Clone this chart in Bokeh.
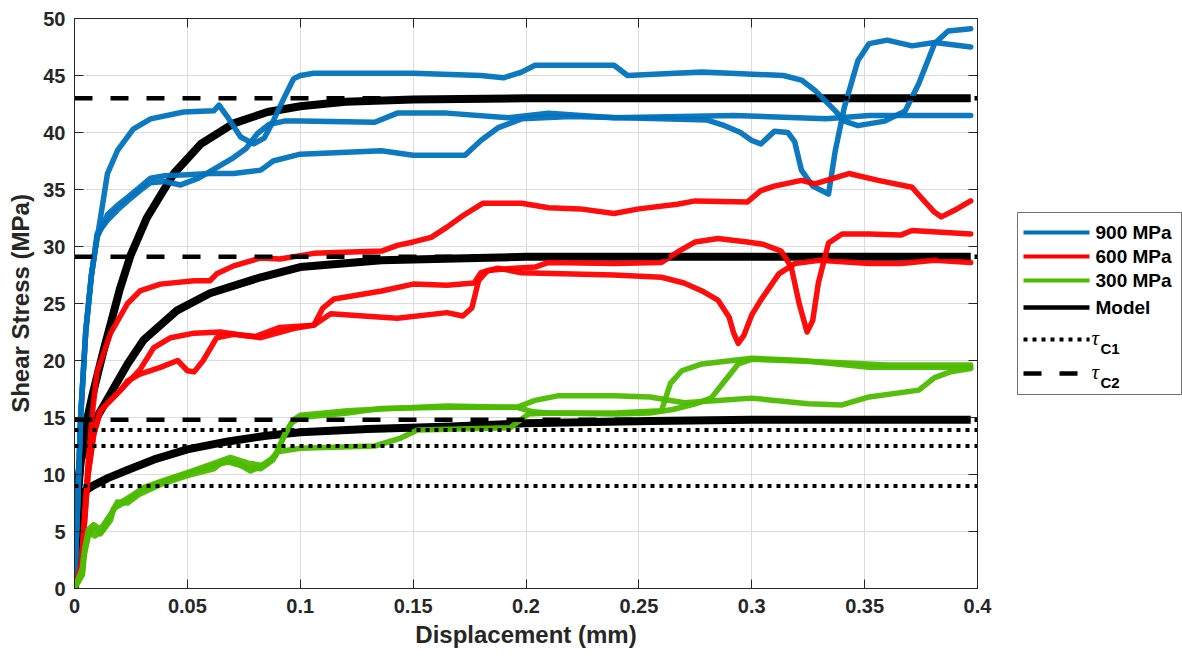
from bokeh.plotting import figure
from bokeh.models import Range1d, FixedTicker, LinearAxis, CustomJSTickFormatter
from bokeh.layouts import row
from bokeh.core.properties import value
from bokeh.embed import file_html
from bokeh.resources import INLINE

# ---------------- data ----------------
x_ticks = [0, 0.05, 0.1, 0.15, 0.2, 0.25, 0.3, 0.35, 0.4]
x_tick_labels = ["0", "0.05", "0.1", "0.15", "0.2", "0.25", "0.3", "0.35", "0.4"]
y_ticks = [0, 5, 10, 15, 20, 25, 30, 35, 40, 45, 50]

# 900 MPa tests
blue_a_x = [0, 0.0015, 0.0027, 0.005, 0.0075, 0.009, 0.0115, 0.0146, 0.019, 0.026, 0.0337, 0.0483, 0.0617,
            0.064, 0.068, 0.0736, 0.0794, 0.084, 0.088, 0.093, 0.097, 0.1, 0.106, 0.15, 0.18, 0.19, 0.198,
            0.204, 0.224, 0.239, 0.245, 0.278, 0.314, 0.322, 0.328, 0.337, 0.341, 0.347, 0.359, 0.368, 0.374,
            0.381, 0.387, 0.397]
blue_a_y = [0, 8, 15, 22.6, 27.5, 29.5, 32.5, 36.4, 38.4, 40.3, 41.2, 41.8, 41.9,
            42.4, 41.3, 39.6, 39.0, 39.5, 41.0, 43.1, 44.7, 45.0, 45.2, 45.2, 45.0, 44.8, 45.3,
            45.9, 45.9, 45.9, 45.0, 45.3, 45.0, 44.6, 43.7, 41.9, 41.0, 40.6, 41.0, 41.9, 44.3,
            47.8, 48.9, 49.1]

blue_b_x = [0, 0.0015, 0.0027, 0.005, 0.0075, 0.009, 0.010, 0.0146, 0.019, 0.0235, 0.029, 0.0337, 0.040,
            0.047, 0.055, 0.062, 0.0705, 0.076, 0.081, 0.086, 0.093, 0.1, 0.133, 0.143, 0.165, 0.192,
            0.21, 0.239, 0.292, 0.333, 0.352, 0.397]
blue_b_y = [0, 8, 15, 22.6, 27.5, 29.5, 31.1, 32.3, 33.2, 34.0, 34.9, 35.6, 35.7,
            35.4, 36.0, 36.8, 37.8, 38.6, 39.9, 40.7, 41.0, 41.0, 40.9, 41.7, 41.7, 41.3,
            41.7, 41.3, 41.5, 41.2, 41.5, 41.5]

blue_c_x = [0, 0.0015, 0.0027, 0.005, 0.0075, 0.009, 0.010, 0.0146, 0.019, 0.0235, 0.029, 0.0337, 0.040,
            0.05, 0.06, 0.0705, 0.0825, 0.088, 0.1, 0.136, 0.15, 0.173, 0.18, 0.1875, 0.198, 0.22, 0.26,
            0.28, 0.288, 0.295, 0.30, 0.304, 0.31, 0.316, 0.319, 0.322, 0.327, 0.334, 0.337, 0.341,
            0.347, 0.352, 0.36, 0.371, 0.381, 0.397]
blue_c_y = [0, 8, 15, 22.6, 27.5, 29.5, 30.8, 32.8, 33.6, 34.3, 35.2, 36.0, 36.2,
            36.3, 36.4, 36.4, 36.7, 37.5, 38.1, 38.4, 38.0, 38.0, 39.3, 40.4, 41.2, 41.4, 41.2,
            41.1, 40.6, 40.0, 39.3, 39.0, 40.1, 40.0, 39.2, 36.7, 35.3, 34.6, 38.4, 42.2,
            46.3, 47.8, 48.1, 47.6, 47.9, 47.5]

# 600 MPa tests
red_a_x = [0, 0.003, 0.006, 0.008, 0.010, 0.016, 0.0235, 0.029, 0.038, 0.053, 0.060, 0.063, 0.0705,
           0.0825, 0.091, 0.106, 0.136, 0.143, 0.15, 0.158, 0.165, 0.172, 0.181, 0.198, 0.21, 0.224,
           0.239, 0.25, 0.267, 0.275, 0.298, 0.304, 0.31, 0.322, 0.328, 0.343, 0.356, 0.371, 0.375,
           0.381, 0.384, 0.39, 0.397]
red_a_y = [0, 2, 11, 15.5, 19.0, 22.4, 25.0, 26.1, 26.7, 27.0, 27.0, 27.6, 28.3,
           29.0, 28.9, 29.4, 29.6, 30.1, 30.4, 30.8, 31.7, 32.7, 33.8, 33.8, 33.4, 33.3,
           32.9, 33.3, 33.7, 34.0, 33.9, 34.9, 35.3, 35.8, 35.5, 36.4, 35.8, 35.2, 34.3,
           33.0, 32.6, 33.2, 34.0]

red_b_x = [0, 0.003, 0.006, 0.0085, 0.0115, 0.0204, 0.029, 0.035, 0.0426, 0.053, 0.0647, 0.075, 0.0825,
           0.097, 0.106, 0.1135, 0.128, 0.143, 0.165, 0.172, 0.176, 0.179, 0.183, 0.195, 0.204, 0.21,
           0.239, 0.26, 0.267, 0.275, 0.285, 0.298, 0.305, 0.313, 0.3175, 0.321, 0.3245, 0.327, 0.3295,
           0.334, 0.34, 0.352, 0.366, 0.371, 0.397]
red_b_y = [0, 2, 10, 13.5, 15.6, 17.4, 19.2, 21.1, 22.0, 22.4, 22.5, 22.2, 22.0,
           22.8, 23.1, 24.1, 23.9, 23.7, 24.2, 23.9, 24.6, 27.0, 27.9, 28.1, 28.2, 28.6,
           28.5, 28.6, 29.5, 30.4, 30.7, 30.4, 30.2, 29.6, 28.2, 25.0, 22.5, 23.5, 26.8,
           30.3, 31.1, 31.1, 31.0, 31.4, 31.1]

red_c_x = [0, 0.003, 0.006, 0.0085, 0.0115, 0.0204, 0.0235, 0.029, 0.038, 0.0457, 0.05, 0.053, 0.057,
           0.063, 0.0705, 0.08, 0.091, 0.106, 0.110, 0.115, 0.136, 0.15, 0.165, 0.177, 0.18, 0.1875,
           0.198, 0.239, 0.26, 0.27, 0.278, 0.285, 0.29, 0.292, 0.294, 0.2965, 0.30, 0.304, 0.312,
           0.319, 0.33, 0.352, 0.366, 0.381, 0.397]
red_c_y = [0, 2, 10, 13.5, 15.6, 17.4, 18.2, 18.8, 19.4, 20.0, 19.1, 19.0, 20.0,
           22.0, 22.3, 22.1, 22.9, 23.1, 24.6, 25.4, 26.1, 26.7, 26.6, 26.8, 27.7, 28.1,
           27.7, 27.5, 27.3, 26.8, 26.1, 25.3, 23.8, 22.4, 21.5, 22.2, 24.0, 25.3, 27.6,
           28.5, 28.8, 28.5, 28.5, 28.8, 28.6]

# 300 MPa tests
green_a_x = [0, 0.0035, 0.004, 0.0062, 0.0084, 0.0115, 0.016, 0.0173, 0.0235, 0.029, 0.038, 0.05, 0.0617,
             0.068, 0.0767, 0.0825, 0.088, 0.092, 0.096, 0.1, 0.121, 0.136, 0.165, 0.196, 0.204, 0.214,
             0.239, 0.255, 0.27, 0.285, 0.30, 0.325, 0.34, 0.352, 0.374, 0.381, 0.388, 0.397]
green_a_y = [0, 1.5, 2.7, 4.8, 5.3, 4.8, 6.0, 7.0, 7.7, 8.6, 9.3, 10.1, 10.8,
             11.1, 10.6, 10.5, 11.3, 13.0, 14.5, 15.0, 15.4, 15.8, 15.9, 15.9, 16.5, 16.9,
             16.9, 16.8, 16.3, 16.5, 16.7, 16.2, 16.1, 16.8, 17.4, 18.5, 19.0, 19.3]

green_b_x = [0, 0.0035, 0.0045, 0.0065, 0.009, 0.012, 0.016, 0.019, 0.0235, 0.029, 0.038, 0.05, 0.0617,
             0.066, 0.072, 0.078, 0.0856, 0.09, 0.1, 0.133, 0.1445, 0.152, 0.193, 0.201, 0.21, 0.239,
             0.26, 0.264, 0.269, 0.278, 0.30, 0.322, 0.352, 0.397]
green_b_y = [0, 1.2, 3.2, 5.0, 4.6, 5.0, 6.4, 7.6, 7.5, 8.3, 9.1, 9.9, 10.5,
             11.2, 11.0, 10.3, 11.0, 12.0, 12.3, 12.5, 13.2, 13.9, 14.1, 15.3, 15.4, 15.4,
             15.6, 18.0, 19.1, 19.7, 20.2, 20.0, 19.4, 19.4]

green_c_x = [0, 0.0035, 0.0045, 0.0062, 0.0084, 0.0115, 0.016, 0.0185, 0.025, 0.031, 0.04, 0.052, 0.062,
             0.069, 0.077, 0.083, 0.089, 0.093, 0.097, 0.1, 0.121, 0.14, 0.165, 0.196, 0.203, 0.21,
             0.24, 0.255, 0.265, 0.275, 0.282, 0.288, 0.294, 0.30, 0.33, 0.36, 0.397]
green_c_y = [0, 1.8, 3.5, 5.2, 5.6, 5.2, 6.5, 7.3, 8.1, 8.9, 9.5, 10.3, 11.0,
             11.5, 11.0, 10.8, 11.6, 13.5, 14.8, 15.2, 15.6, 15.8, 16.0, 15.9, 15.5, 15.4,
             15.3, 15.4, 15.7, 16.2, 16.7, 18.2, 19.7, 20.1, 19.9, 19.6, 19.6]

# model curves
model_900_x = [0, 0.0015, 0.004, 0.008, 0.0129, 0.016, 0.02, 0.0248, 0.032, 0.044, 0.056, 0.0705, 0.0855,
               0.1, 0.12, 0.15, 0.2, 0.3, 0.397]
model_900_y = [0, 9, 13.4, 17.0, 20.9, 23.2, 26.2, 29.2, 32.5, 36.4, 39.0, 40.8, 41.8,
               42.3, 42.7, 42.9, 43.0, 43.0, 43.0]
model_600_x = [0, 0.0015, 0.0027, 0.0084, 0.016, 0.0235, 0.0306, 0.0455, 0.06, 0.0825, 0.1, 0.136, 0.2,
               0.3, 0.397]
model_600_y = [0, 8, 11.2, 14.5, 17.1, 19.7, 21.8, 24.4, 25.9, 27.3, 28.2, 28.8, 29.1,
               29.1, 29.1]
model_300_x = [0, 0.002, 0.0035, 0.008, 0.015, 0.0235, 0.035, 0.05, 0.068, 0.085, 0.1, 0.13, 0.167,
               0.2, 0.255, 0.3, 0.397]
model_300_y = [0, 5, 8.4, 9.0, 9.7, 10.4, 11.3, 12.2, 12.9, 13.4, 13.7, 14.0, 14.2,
               14.5, 14.7, 14.8, 14.8]

# critical stresses
tau_c1 = [13.9, 12.5, 9.0]
tau_c2 = [43.0, 29.1, 14.8]

BLUE = "#0072BD"
RED = "#FF0000"
GREEN = "#4DBB00"
TXT = "#262626"
FONT = "Liberation Sans"

TOP, BOTTOM = 18, 70

# ---------------- main axes ----------------
p = figure(width=1000, height=658, x_range=Range1d(0, 0.4), y_range=Range1d(0, 50),
           output_backend="svg", toolbar_location=None,
           min_border_left=74, min_border_right=23, min_border_top=TOP, min_border_bottom=BOTTOM,
           background_fill_color="white", border_fill_color="white")

p.xaxis.ticker = FixedTicker(ticks=x_ticks)
p.xaxis.major_label_overrides = {t: s for t, s in zip(x_ticks, x_tick_labels)}
p.yaxis.ticker = FixedTicker(ticks=y_ticks)
p.xgrid.ticker = FixedTicker(ticks=x_ticks)
p.ygrid.ticker = FixedTicker(ticks=y_ticks)
p.grid.grid_line_color = "#dcdcdc"
p.grid.grid_line_width = 1

p.xaxis.axis_label = "Displacement (mm)"
p.yaxis.axis_label = "Shear Stress (MPa)"
for ax in (p.xaxis[0], p.yaxis[0]):
    ax.major_tick_in = 9
    ax.major_tick_out = 0
    ax.minor_tick_in = 0
    ax.minor_tick_out = 0
    ax.axis_line_color = TXT
    ax.major_tick_line_color = TXT
    ax.major_label_text_font = FONT
    ax.major_label_text_font_style = "bold"
    ax.major_label_text_font_size = "20px"
    ax.major_label_text_color = TXT
    ax.axis_label_text_font = FONT
    ax.axis_label_text_font_style = "bold"
    ax.axis_label_text_font_size = "24px"
    ax.axis_label_text_color = TXT
p.xaxis.major_label_standoff = 10
p.xaxis.axis_label_standoff = 5
p.yaxis.major_label_standoff = 9
p.yaxis.axis_label_standoff = 6

# tick marks on the top and right edges of the box
blank = CustomJSTickFormatter(code="return ''")
for loc, ticks in (("right", y_ticks), ("above", x_ticks)):
    ax = LinearAxis(ticker=FixedTicker(ticks=ticks), formatter=blank,
                    major_tick_in=9, major_tick_out=0, minor_tick_in=0, minor_tick_out=0,
                    major_label_standoff=0, major_label_text_font_size="1px",
                    axis_line_color=TXT, major_tick_line_color=TXT)
    p.add_layout(ax, loc)
p.outline_line_color = TXT

# model curves
for mx, my in ((model_900_x, model_900_y), (model_600_x, model_600_y), (model_300_x, model_300_y)):
    p.line(mx, my, line_color="black", line_width=8, line_join="round")

# measured curves
for cx, cy, col in ((blue_a_x, blue_a_y, BLUE), (blue_b_x, blue_b_y, BLUE), (blue_c_x, blue_c_y, BLUE),
                    (red_a_x, red_a_y, RED), (red_b_x, red_b_y, RED), (red_c_x, red_c_y, RED),
                    (green_a_x, green_a_y, GREEN), (green_b_x, green_b_y, GREEN),
                    (green_c_x, green_c_y, GREEN)):
    p.line(cx, cy, line_color=col, line_width=5.5, line_join="round", line_cap="round", line_alpha=0.95)

# critical stress levels
for t in tau_c2:
    p.line([0, 0.4], [t, t], line_color="black", line_width=4.5, line_dash="18 18")
for t in tau_c1:
    p.line([0, 0.4], [t, t], line_color="black", line_width=4, line_dash="4 5")

# ---------------- legend panel ----------------
# the panel's frame shares the main frame's vertical extent, so its y range
# is expressed in page pixels from TOP to 658 - BOTTOM
leg_labels = ["900 MPa", "600 MPa", "300 MPa", "Model"]
leg_colors = [BLUE, RED, GREEN, "black"]

lg = figure(width=182, height=658, x_range=Range1d(0, 182), y_range=Range1d(658 - BOTTOM, TOP),
            x_axis_type=None, y_axis_type=None,
            min_border_left=0, min_border_right=0, min_border_top=TOP, min_border_bottom=BOTTOM,
            output_backend="svg", toolbar_location=None,
            background_fill_color="white", border_fill_color="white")
lg.grid.visible = False
lg.outline_line_color = None

lg.quad(left=[17], right=[181], top=[212], bottom=[394],
        fill_color="white", line_color="#707070", line_width=1)

rows_y = [232, 256, 280, 307]
for yy, col in zip(rows_y, leg_colors):
    lg.line([23, 89], [yy, yy], line_color=col, line_width=4 if col != "black" else 4.5)
lg.line([23, 89], [339, 339], line_color="black", line_width=4, line_dash="4 5")
lg.line([23, 89], [373, 373], line_color="black", line_width=4.5, line_dash="18 18")

lg.text(x=[95] * 4, y=rows_y, text=leg_labels, text_font=value(FONT), text_font_style="bold",
        text_font_size="19px", text_baseline="middle", text_color="black")
lg.text(x=[91, 91], y=[337, 371], text=["τ", "τ"], text_font=value("Liberation Serif"),
        text_font_style="italic", text_font_size="21px", text_baseline="middle", text_color="black")
lg.text(x=[100, 100], y=[348, 382], text=["C1", "C2"], text_font=value(FONT), text_font_style="bold",
        text_font_size="15px", text_baseline="middle", text_color="black")

layout = row(p, lg)
open("out.html", "w").write(file_html(layout, INLINE))
